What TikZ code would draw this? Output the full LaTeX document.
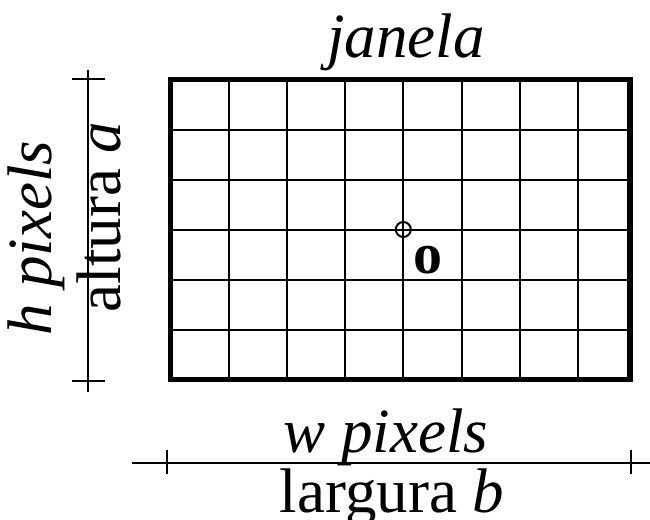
\documentclass[tikz,border=0pt]{standalone}
\usepackage{fontspec}
\setmainfont{Liberation Serif}
\begin{document}
\begin{tikzpicture}[x=1pt,y=-1pt,
  lbl/.style={inner sep=0pt,font=\fontsize{63}{63}\selectfont},
  dim/.style={line width=2pt},
  gridline/.style={line width=2pt},
  frame/.style={line width=5.5pt}]
\useasboundingbox (0,0) rectangle (650,519);
% grid
\foreach \i in {1,...,7} \draw[gridline] ({170.5+\i*58.2},79.5) -- ({170.5+\i*58.2},379.5);
\foreach \j in {1,...,5} \draw[gridline] (170.5,{79.5+\j*50}) -- (630,{79.5+\j*50});
\draw[frame] (170.5,79.5) rectangle (630,379.5);
% origin
\node[circle,draw,line width=2pt,minimum size=15pt,inner sep=0pt] (orig) at (403.3,229.5) {};
\node[lbl,font=\fontsize{58}{58}\selectfont\bfseries,anchor=base] (o) at (428,273) {o};
% top label
\node[lbl,anchor=base] (jan) at (406,57) {\itshape janela};
% vertical dimension
\coordinate (vt) at (88,70);
\coordinate (vb) at (88,392);
\draw[dim] (vt) -- (vb);
\coordinate (vt1) at (72,79); \coordinate (vt2) at (105,79);
\coordinate (vb1) at (72,381); \coordinate (vb2) at (105,381);
\draw[dim] (vt1) -- (vt2);
\draw[dim] (vb1) -- (vb2);
\node[lbl,rotate=90,anchor=base] (hp) at (51,238) {\itshape h pixels};
\node[lbl,rotate=90,anchor=base] (alt) at (120,217) {altura \itshape a};
% horizontal dimension
\coordinate (hl) at (132,463);
\coordinate (hr) at (650,463);
\draw[dim] (hl) -- (hr);
\coordinate (hl1) at (167,450); \coordinate (hl2) at (167,474);
\coordinate (hr1) at (631,450); \coordinate (hr2) at (631,474);
\draw[dim] (hl1) -- (hl2);
\draw[dim] (hr1) -- (hr2);
\node[lbl,anchor=base] (wp) at (386,452) {\itshape w pixels};
\node[lbl,anchor=base] (lar) at (392,512) {largura \itshape b};
\end{tikzpicture}
\end{document}
